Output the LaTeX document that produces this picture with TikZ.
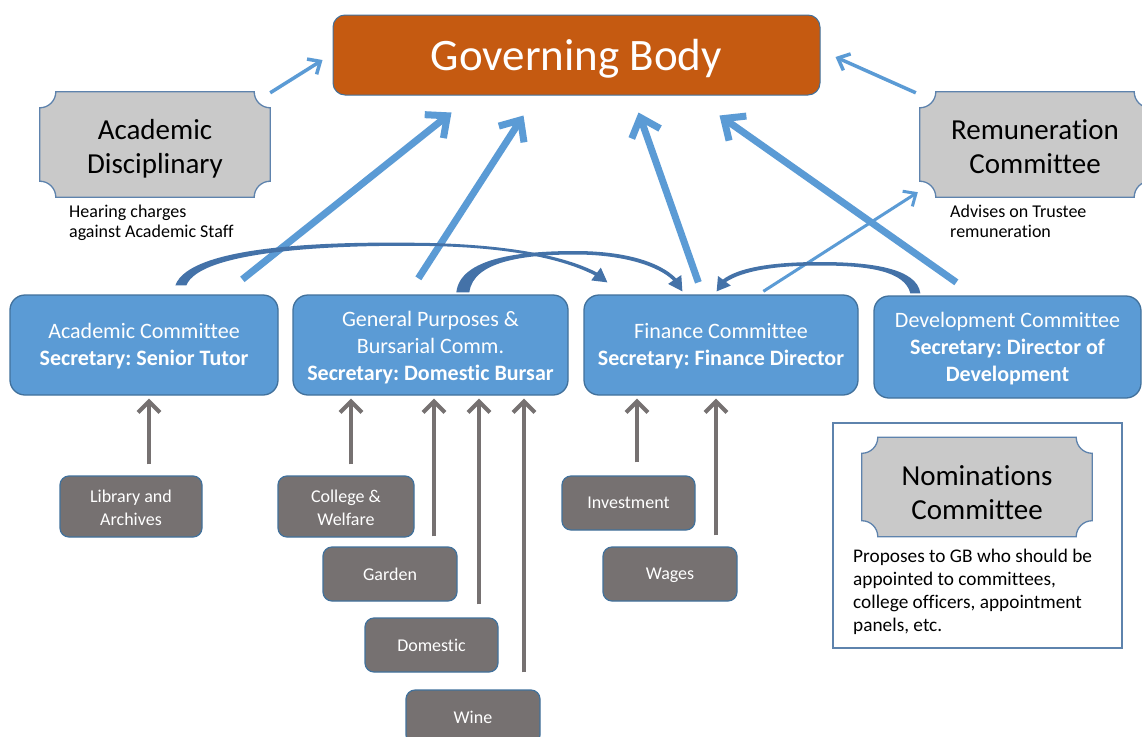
\documentclass[tikz,border=0pt]{standalone}
\usepackage{fontspec}
\setmainfont[Ligatures=NoCommon]{Carlito}
\usetikzlibrary{arrows.meta,calc}
\frenchspacing
\pgfdeclarelayer{bottom}
\pgfdeclarelayer{background}
\pgfsetlayers{bottom,background,main}
\definecolor{gborange}{HTML}{C55A11}
\definecolor{cblue}{HTML}{5B9BD5}
\definecolor{bordblue}{HTML}{41719C}
\definecolor{plgray}{HTML}{C9C9C9}
\definecolor{subgray}{HTML}{767171}
\definecolor{curveblue}{HTML}{4472A8}
\definecolor{plborder}{HTML}{5E83AD}
\newcommand\drawplaque[2][16]{%
  \begin{pgfonlayer}{background}
  \draw[plaqueline] ($(#2.north west)+(#1,0)$) -- ($(#2.north east)+(-#1,0)$)
    arc[start angle=180,end angle=90,radius=#1]
    -- ($(#2.south east)+(0,-#1)$) arc[start angle=270,end angle=180,radius=#1]
    -- ($(#2.south west)+(#1,0)$) arc[start angle=0,end angle=-90,radius=#1]
    -- ($(#2.north west)+(0,#1)$) arc[start angle=90,end angle=0,radius=#1]
    -- cycle;
  \end{pgfonlayer}}
% lower the text of a node without changing the box it reports
\newcommand\lowtext[2]{\raisebox{-#1}[\height][\depth]{\begin{tabular}{@{}c@{}}#2\end{tabular}}}
\tikzset{
  plaqueline/.style={fill=plgray, draw=plborder, line width=1.3pt},
  plaquetext/.style={inner sep=0pt, align=center, text=black,
    font=\fontsize{29}{34}\selectfont},
  govbox/.style={draw=bordblue, line width=1pt, fill=gborange, rounded corners=12pt,
    text=white, inner sep=0pt, font=\fontsize{45}{54}\selectfont},
  combox/.style={draw=bordblue, line width=1.3pt, fill=cblue, rounded corners=15pt,
    text=white, inner sep=0pt, align=center, font=\fontsize{22}{27}\selectfont},
  subbox/.style={draw=bordblue, line width=1.2pt, fill=subgray, rounded corners=9pt,
    text=white, inner sep=0pt, align=center, font=\fontsize{18}{23}\selectfont},
  desc/.style={inner sep=0pt, align=left, text=black, anchor=north west,
    font=\fontsize{18}{20}\selectfont},
  thickarr/.style={draw=cblue, line width=7pt, -{Straight Barb[length=17pt,width=30pt]}},
  thinarr/.style={draw=cblue, line width=3.5pt, -{Straight Barb[length=10pt,width=18pt]}},
  grayarr/.style={draw=subgray, line width=4pt, -{Straight Barb[length=11pt,width=22pt]}},
  curvefill/.style={fill=curveblue},
}
\begin{document}
\begin{tikzpicture}[x=1pt,y=-1pt]
\useasboundingbox (0,0) rectangle (1142,736);
\begin{pgfonlayer}{bottom}
\fill[white] (0,0) rectangle (1142,736);
\end{pgfonlayer}
\clip (0,0) rectangle (1142,736);

% Governing body
\node[govbox, minimum width=487pt, minimum height=80pt] (gb) at (576.5,55) {\lowtext{5pt}{Governing Body}};

% plaques
\node[plaquetext, minimum width=230pt, minimum height=105pt] (ad) at (155,144.5) {\lowtext{5.5pt}{Academic\\Disciplinary}};
\drawplaque{ad}
\node[plaquetext, minimum width=230pt, minimum height=105pt] (rc) at (1035,144.5) {\lowtext{5pt}{Remuneration\\Committee}};
\drawplaque{rc}
\node[desc] (adtext) at (69,205) {Hearing charges\\against Academic Staff};
\node[desc] (rctext) at (950,205) {Advises on Trustee\\remuneration};

% nominations
\node[draw=plborder, line width=1.4pt, fill=none, minimum width=289pt, minimum height=225pt, inner sep=0pt] (nombox) at (977.5,535.5) {};
\node[plaquetext, minimum width=230pt, minimum height=99pt] (nc) at (977,487) {\lowtext{9pt}{Nominations\\Committee}};
\drawplaque{nc}
\node[desc, font=\fontsize{19.3}{23}\selectfont] (nctext) at (853,549) {Proposes to GB who should be\\appointed to committees,\\college officers, appointment\\panels, etc.};

% committees
\node[combox, minimum width=268pt, minimum height=100pt] (ac) at (144,345) {\lowtext{2pt}{Academic Committee\\\textbf{Secretary: Senior Tutor}}};
\node[combox, minimum width=275pt, minimum height=100pt] (gp) at (430.5,345) {\lowtext{3pt}{General Purposes \&\\Bursarial Comm.\\\textbf{Secretary: Domestic Bursar}}};
\node[combox, minimum width=274pt, minimum height=100pt] (fc) at (721,345) {\lowtext{2pt}{Finance Committee\\\textbf{Secretary: Finance Director}}};
\node[combox, minimum width=267pt, minimum height=102pt] (dc) at (1007.5,347) {\lowtext{2pt}{Development Committee\\\textbf{Secretary: Director of}\\\textbf{Development}}};

% sub committees
\node[subbox, minimum width=142pt, minimum height=61pt] (lib) at (131,506.5) {\lowtext{3pt}{Library and\\Archives}};
\node[subbox, minimum width=136pt, minimum height=61pt] (coll) at (346,506.5) {\lowtext{3pt}{College \&\\Welfare}};
\node[subbox, minimum width=134pt, minimum height=54pt] (gard) at (390,574) {Garden};
\node[subbox, minimum width=133pt, minimum height=54pt] (dom) at (431.5,645) {Domestic};
\node[subbox, minimum width=134pt, minimum height=54pt] (wine) at (473,717) {Wine};
\node[subbox, minimum width=133pt, minimum height=54pt] (inv) at (628.5,503) {\lowtext{1pt}{Investment}};
\node[subbox, minimum width=134pt, minimum height=54pt] (wag) at (670,574) {\lowtext{1pt}{Wages}};

% gray arrows
\coordinate (g1) at ($(lib.north)+(18,-11)$);
\coordinate (g2) at ($(coll.north)+(5,-11)$);
\coordinate (g3) at ($(gard.north)+(44,-10)$);
\coordinate (g4) at ($(dom.north)+(47.5,-13)$);
\coordinate (g5) at ($(wine.north)+(51,-17)$);
\coordinate (g6) at ($(inv.north)+(8.5,-13)$);
\coordinate (g7) at ($(wag.north)+(46,-11)$);
\draw[grayarr, shorten >=3pt] (g1) -- (g1 |- ac.south);
\draw[grayarr, shorten >=3pt] (g2) -- (g2 |- gp.south);
\draw[grayarr, shorten >=3pt] (g3) -- (g3 |- gp.south);
\draw[grayarr, shorten >=3pt] (g4) -- (g4 |- gp.south);
\draw[grayarr, shorten >=3pt] (g5) -- (g5 |- gp.south);
\draw[grayarr, shorten >=3pt] (g6) -- (g6 |- fc.south);
\draw[grayarr, shorten >=3pt] (g7) -- (g7 |- fc.south);

% thick arrows to governing body
\draw[thickarr] ($(ac.north west)+(233,-15)$) -- ($(gb.south west)+(119,17)$);
\draw[thickarr] ($(gp.north west)+(126,-16)$) -- ($(gb.south west)+(191,20)$);
\draw[thickarr] ($(fc.north west)+(115,-12)$) -- ($(gb.south west)+(306,17)$);
\draw[thickarr] ($(dc.north west)+(83,-13)$) -- ($(gb.south west)+(387,20)$);

% thin arrows
\draw[thinarr] ($(ad.north east)+(0,1)$) -- ($(gb.west)+(-10,5)$);
\draw[thinarr] ($(rc.north west)+(-4,1)$) -- ($(gb.east)+(15,2)$);
\draw[thinarr, line width=3pt] ($(dc.north west)+(-110,-4)$) -- ($(rc.south west)+(-2,-5)$);

% curved arrows
\coordinate (c1a) at ($(ac.north west)+(166,-9)$);
\coordinate (c1b) at ($(ac.north west)+(177,-9)$);
\coordinate (c1t) at ($(fc.north west)+(24,-12)$);
\fill[curvefill] (c1a) .. controls (190,245) and (330,241) .. (430,243)
  .. controls (510,245) and (565,256) .. (597.1,272.6) -- (600.8,267.6) -- (c1t)
  -- (591.2,280.4) -- (594.9,275.4) .. controls (563,259) and (510,247.5) .. (430,246)
  .. controls (330,244.5) and (200,251) .. (c1b) -- cycle;
\coordinate (c2a) at ($(gp.north west)+(164,-2)$);
\coordinate (c2b) at ($(gp.north west)+(177,-2)$);
\coordinate (c2t) at ($(fc.north west)+(99,-3)$);
\fill[curvefill] (c2a) .. controls (460,258) and (520,251) .. (575,251)
  .. controls (625,251) and (660,262) .. (676.2,278.5) -- (681.3,275.1) -- (c2t)
  -- (668.1,283.9) -- (673.2,280.5) .. controls (658,265.5) and (622,254.5) .. (575,254.5)
  .. controls (525,254.5) and (473,261) .. (c2b) -- cycle;
\coordinate (c3a) at ($(dc.north west)+(47,-2)$);
\coordinate (c3b) at ($(dc.north west)+(37,-2)$);
\coordinate (c3t) at ($(fc.north east)+(-142,-3)$);
\fill[curvefill] (c3a) .. controls (917,268) and (870,262) .. (820,262)
  .. controls (770,262) and (738,268) .. (722.8,279.6) -- (718,276) -- (c3t)
  -- (730.8,285.6) -- (726,282) .. controls (742,271.5) and (772,265.5) .. (820,265.5)
  .. controls (868,265.5) and (905,271) .. (c3b) -- cycle;
\end{tikzpicture}
\end{document}
